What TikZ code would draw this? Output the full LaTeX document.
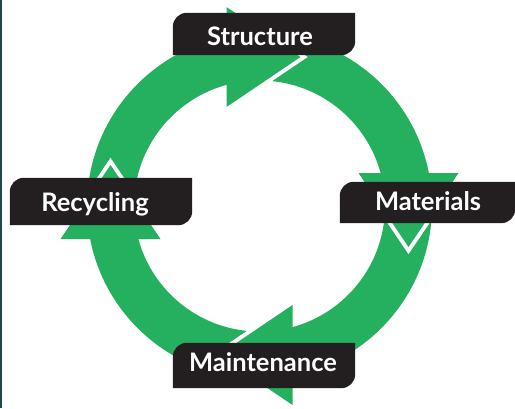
\documentclass[tikz,border=0pt]{standalone}
\usepackage{fontspec}
\setmainfont{Lato}
\definecolor{ringgreen}{RGB}{37,176,96}
\definecolor{boxblack}{RGB}{35,31,32}
\definecolor{edgeteal}{RGB}{28,72,74}
\pgfdeclarelayer{paperlayer}
\pgfdeclarelayer{ringlayer}
\pgfdeclarelayer{boxlayer}
\pgfsetlayers{paperlayer,ringlayer,boxlayer,main}
\tikzset{
  gapline/.style={draw=white, line width=8pt, miter limit=20, line join=miter},
  headfill/.style={fill=ringgreen},
  lbl/.style={text=white, font=\bfseries\fontsize{25.5}{25.5}\selectfont, inner sep=0pt, anchor=base},
  boxnode/.style={inner sep=0pt, draw=none},
}
\newcommand{\leafbox}[1]{%
  \fill[boxblack] (#1.south west) [rounded corners=14pt] -- (#1.north west) [sharp corners] -- (#1.north east) [rounded corners=14pt] -- (#1.south east) [sharp corners] -- cycle;}
\begin{document}
\begin{tikzpicture}[x=1pt,y=-1pt]
\useasboundingbox (0,0) rectangle (515,408);
\begin{pgfonlayer}{paperlayer}
  \fill[white] (0,0) rectangle (515,408);
  \fill[edgeteal] (0,0) rectangle (2,408);
\end{pgfonlayer}
\coordinate (c) at (259.5,206);
% arrowhead points
\coordinate (ta) at (226.5,7);   \coordinate (tb) at (226.5,107); \coordinate (tt) at (300.5,57);
\coordinate (ra) at (458.5,173); \coordinate (rb) at (358.5,173); \coordinate (rt) at (408.5,247);
\coordinate (ba) at (292.5,405); \coordinate (bb) at (292.5,305); \coordinate (bt) at (218.5,355);
\coordinate (la) at (60.5,239);  \coordinate (lb) at (160.5,239); \coordinate (lt) at (110.5,165);
\begin{pgfonlayer}{ringlayer}
  \draw[ringgreen, line width=47pt] (c) circle (149);
  \foreach \p in {t,r,b,l}{
    \draw[gapline] (\p a) -- (\p t) -- (\p b);
    \fill[headfill] (\p a) -- (\p t) -- (\p b) -- cycle;
  }
\end{pgfonlayer}
% label boxes
\node[boxnode, minimum width=182pt, minimum height=42pt] (structurebox) at (264,34) {};
\node[boxnode, minimum width=175pt, minimum height=41pt] (materialsbox) at (427.5,202.5) {};
\node[boxnode, minimum width=182pt, minimum height=47pt] (recyclingbox) at (101,201.5) {};
\node[boxnode, minimum width=182pt, minimum height=45pt] (maintenancebox) at (264,365.5) {};
\begin{pgfonlayer}{boxlayer}
  \leafbox{structurebox}
  \leafbox{materialsbox}
  \leafbox{recyclingbox}
  \leafbox{maintenancebox}
\end{pgfonlayer}
\node[lbl] (structure) at (260,45) {Structure};
\node[lbl] (materials) at (428,210) {Materials};
\node[lbl] (recycling) at (95,211.5) {Recycling};
\node[lbl] (maintenance) at (263,371.5) {Maintenance};
\end{tikzpicture}
\end{document}
